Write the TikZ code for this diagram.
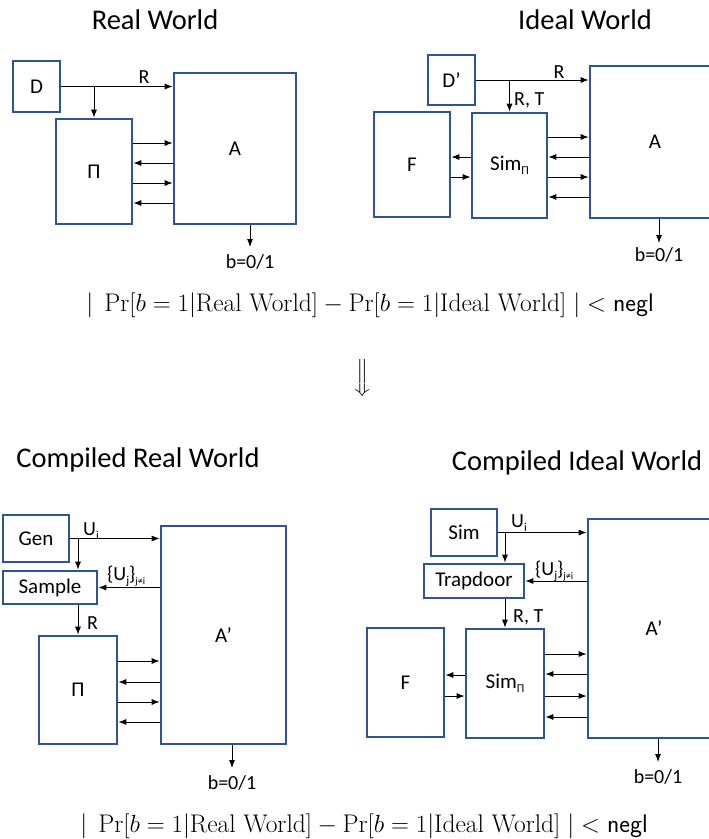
\documentclass[tikz,border=0pt]{standalone}
\usepackage{fontspec}
\usepackage{amsmath}
\usetikzlibrary{calc,arrows.meta}
\newfontfamily\calibri{Carlito}
\definecolor{boxblue}{RGB}{47,84,150}
\newcommand{\lowsub}[2][12]{\raisebox{-0.4ex}{\fontsize{#1}{#1}\selectfont #2}}
\tikzset{
	blk/.style={draw=boxblue, line width=2.6pt, inner sep=0pt, font=\calibri\fontsize{21}{24}\selectfont},
	lbl/.style={font=\calibri\fontsize{20}{22}\selectfont, inner sep=0pt},
	ttl/.style={font=\calibri\fontsize{28.5}{32}\selectfont, inner sep=0pt},
	msg/.style={line width=0.95pt, -{Latex[length=8pt,width=6pt]}},
	frm/.style={font=\fontsize{25.5}{30}\selectfont, inner sep=0pt}
}

\begin{document}
\begin{tikzpicture}[x=1pt, y=-1pt]
			\useasboundingbox (0,0) rectangle (709,839);
			%%%%% REAL WORLD %%%%%
			\node[ttl] (tReal) at (155,20) {Real World};
			\node[blk, minimum width=47pt, minimum height=51pt] (D) at (36.5,86.5) {D};
			\node[blk, minimum width=76pt, minimum height=105pt] (P) at (94,171.5) {Π};
			\node[blk, minimum width=122pt, minimum height=151pt] (A) at (235,148.5) {A};
			
			\draw[msg] (D.east) -- (D.east -| A.west);
			\node[lbl] (rA) at (144,77) {R};
			\draw[msg] (D.east -| P.north) -- (P.north);
			\foreach \y in {143,183} \draw[msg] (P.east |- 0,\y) -- (A.west |- 0,\y);
			\foreach \y in {163,203} \draw[msg] (A.west |- 0,\y) -- (P.east |- 0,\y);
			\coordinate (bA) at (250,247);
			\draw[msg] (bA |- A.south) -- (bA);
			\node[lbl] (outA) at (250,262) {b=0/1};
			
			%%%%% IDEAL WORLD %%%%%
			\node[ttl] (tIdeal) at (585,20) {Ideal World};
			\node[blk, minimum width=47pt, minimum height=50pt] (Dp) at (451.5,80) {D’};
			\node[blk, minimum width=76pt, minimum height=105pt] (F) at (412,164.5) {F};
			\node[blk, minimum width=75pt, minimum height=105pt] (SP) at (509.5,165.5) {Sim\lowsub{Π}};
			\node[blk, minimum width=130pt, minimum height=152pt] (A2) at (655,142) {A};
			
			\draw[msg] (Dp.east) -- (Dp.east -| A2.west);
			\node[lbl] (rA2) at (559,72) {R};
			\draw[msg] (Dp.east -| SP.north) -- (SP.north);
			\node[lbl, anchor=west] (rtSP) at (514,100) {R, T};
			\draw[msg] (SP.west |- 0,157) -- (F.east |- 0,157);
			\draw[msg] (F.east |- 0,177) -- (SP.west |- 0,177);
			\foreach \y in {137,177} \draw[msg] (SP.east |- 0,\y) -- (A2.west |- 0,\y);
			\foreach \y in {157,197} \draw[msg] (A2.west |- 0,\y) -- (SP.east |- 0,\y);
			\coordinate (bA2) at (659,243);
			\draw[msg] (bA2 |- A2.south) -- (bA2);
			\node[lbl] (outA2) at (659,255) {b=0/1};
			
			%%%%% FORMULA %%%%%
			\node[frm] (eqTop) at (370,305) {$|\;\Pr[b=1|\text{Real World}]-\Pr[b=1|\text{Ideal World}]\;|<\textsf{negl}$};
			\node[frm, font=\fontsize{22}{26}\selectfont] (impl) at (363,378) {$\Big\Downarrow$};
			
			%%%%% COMPILED REAL WORLD %%%%%
			\node[ttl] (tCReal) at (138,460) {Compiled Real World};
			\node[blk, minimum width=66pt, minimum height=47pt] (Gen) at (36,538.5) {Gen};
			\node[blk, minimum width=94pt, minimum height=33pt] (Sample) at (50,587.5) {Sample};
			\node[blk, minimum width=78pt, minimum height=108pt] (P2) at (78,690) {Π};
			\node[blk, minimum width=125pt, minimum height=218pt] (A3) at (223.5,635) {A’};
			
			\draw[msg] (Gen.east) -- (Gen.east -| A3.west);
			\node[lbl, anchor=west] (uA3) at (83,531) {U\lowsub{i}};
			\draw[msg] (Gen.east -| P2.north) -- (P2.north |- Sample.north);
			\draw[msg] (Sample.east -| A3.west) -- (Sample.east);
			\node[lbl, anchor=west] (ujA3) at (107,576) {\{U\lowsub{j}\}\lowsub[10]{j≠i}};
			\draw[msg] (P2.north |- Sample.south) -- (P2.north);
			\node[lbl, anchor=west] (rP2) at (87,623) {R};
			\foreach \y in {661,702} \draw[msg] (P2.east |- 0,\y) -- (A3.west |- 0,\y);
			\foreach \y in {682,722} \draw[msg] (A3.west |- 0,\y) -- (P2.east |- 0,\y);
			\coordinate (bA3) at (232,768);
			\draw[msg] (bA3 |- A3.south) -- (bA3);
			\node[lbl] (outA3) at (232,783) {b=0/1};
			
			%%%%% COMPILED IDEAL WORLD %%%%%
			\node[ttl] (tCIdeal) at (577,463) {Compiled Ideal World};
			\node[blk, minimum width=66pt, minimum height=47pt] (Sim) at (464,532.5) {Sim};
			\node[blk, minimum width=100pt, minimum height=34pt] (Trap) at (474,581) {Trapdoor};
			\node[blk, minimum width=77pt, minimum height=109pt] (F2) at (405.5,682.5) {F};
			\node[blk, minimum width=78pt, minimum height=109pt] (SP2) at (505,683.5) {Sim\lowsub{Π}};
			\node[blk, minimum width=132pt, minimum height=219pt] (A4) at (654,628.5) {A’};
			
			\draw[msg] (Sim.east) -- (Sim.east -| A4.west);
			\node[lbl, anchor=west] (uA4) at (511,523) {U\lowsub{i}};
			\draw[msg] (Sim.east -| SP2.north) -- (SP2.north |- Trap.north);
			\draw[msg] (Trap.east -| A4.west) -- (Trap.east);
			\node[lbl, anchor=west] (ujA4) at (535,571) {\{U\lowsub{j}\}\lowsub[10]{j≠i}};
			\draw[msg] (SP2.north |- Trap.south) -- (SP2.north);
			\node[lbl, anchor=west] (rtSP2) at (513,617) {R, T};
			\draw[msg] (SP2.west |- 0,675) -- (F2.east |- 0,675);
			\draw[msg] (F2.east |- 0,696) -- (SP2.west |- 0,696);
			\foreach \y in {654,696} \draw[msg] (SP2.east |- 0,\y) -- (A4.west |- 0,\y);
			\foreach \y in {674,717} \draw[msg] (A4.west |- 0,\y) -- (SP2.east |- 0,\y);
			\coordinate (bA4) at (658,762);
			\draw[msg] (bA4 |- A4.south) -- (bA4);
			\node[lbl] (outA4) at (658,777) {b=0/1};
			
			%%%%% FORMULA %%%%%
			\node[frm] (eqBot) at (364,826) {$|\;\Pr[b=1|\text{Real World}]-\Pr[b=1|\text{Ideal World}]\;|<\textsf{negl}$};
\end{tikzpicture}
\end{document}
